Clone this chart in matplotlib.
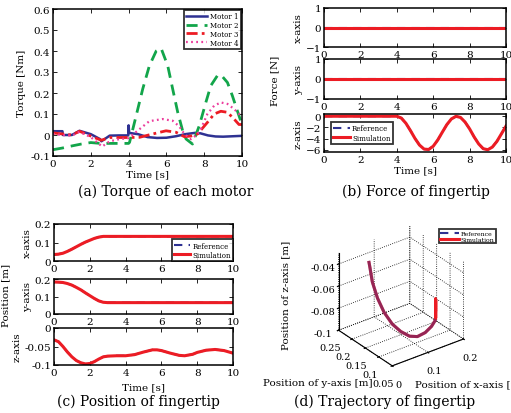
import numpy as np
import matplotlib
matplotlib.use("Agg")
import matplotlib.pyplot as plt
from matplotlib.lines import Line2D

plt.rcParams['font.family'] = ['DejaVu Serif']
plt.rcParams['mathtext.fontset'] = 'dejavuserif'
plt.rcParams['grid.linestyle'] = ':'
plt.rcParams['grid.color'] = 'black'
plt.rcParams['grid.linewidth'] = 0.6

# ---- (a) torque of each motor ----
m1_t = [0, 0.5, 0.52, 1.0, 1.4, 2.0, 2.5, 2.56, 3.0, 3.5, 3.98, 4.0, 4.03, 4.5, 5.0, 5.5, 6.0, 6.5, 7.0, 7.5, 7.8, 8.2, 8.6, 9.0, 9.5, 10]
m1_v = [0.018, 0.018, 0.0, 0.0, 0.02, 0.004, -0.02, -0.03, -0.003, -0.002, -0.002, 0.046, 0.01, 0.004, -0.01, -0.014, -0.013, -0.006, 0.004, 0.01, 0.008, -0.002, -0.007, -0.008, -0.006, -0.004]

m2_t = [0, 0.5, 1.0, 1.5, 2.0, 2.5, 3.0, 4.0, 4.05, 4.4, 4.75, 5.1, 5.46, 5.72, 6.07, 6.33, 6.6, 6.86, 7.04, 7.38, 7.74, 8.09, 8.35, 8.7, 8.88, 9.23, 9.49, 9.75, 9.93, 10]
m2_v = [-0.07, -0.062, -0.052, -0.043, -0.036, -0.04, -0.04, -0.04, -0.035, 0.092, 0.22, 0.33, 0.40, 0.413, 0.33, 0.22, 0.108, 0.02, -0.019, -0.043, 0.044, 0.156, 0.235, 0.283, 0.287, 0.25, 0.187, 0.116, 0.068, 0.06]

m3_t = [0, 0.5, 1.0, 1.4, 2.0, 2.55, 3.0, 3.5, 4.0, 4.58, 5.28, 5.98, 6.51, 6.95, 7.3, 7.65, 8.17, 8.53, 8.88, 9.23, 9.58, 9.84, 10]
m3_v = [0.01, 0.005, 0.0, 0.018, -0.005, -0.025, -0.012, -0.012, -0.012, -0.011, 0.005, 0.02, 0.013, -0.008, -0.005, 0.005, 0.06, 0.1, 0.113, 0.108, 0.076, 0.05, 0.05]

m4_t = [0, 0.5, 1.0, 1.4, 2.0, 2.6, 3.0, 3.5, 4.0, 4.2, 4.58, 5.1, 5.8, 6.33, 6.68, 6.95, 7.3, 7.6, 7.83, 8.17, 8.53, 8.88, 9.23, 9.58, 9.93, 10]
m4_v = [0.005, 0.0, -0.003, 0.015, -0.01, -0.055, -0.03, -0.02, -0.015, 0.0, 0.028, 0.066, 0.076, 0.068, 0.041, 0.005, -0.02, 0.0, 0.03, 0.1, 0.14, 0.155, 0.148, 0.124, 0.092, 0.09]

# ---- (b) force of fingertip ----
force_t = [0, 4.0, 4.25, 4.5, 4.75, 5.0, 5.25, 5.5, 5.75, 6.0, 6.25, 6.5, 6.75, 7.0, 7.25, 7.5, 7.75, 8.0, 8.25, 8.5, 8.75, 9.0, 9.25, 9.5, 9.75, 10]
force_x = [0] * len(force_t)
force_y = [0] * len(force_t)
force_z = [0, 0, -0.33, -1.26, -2.57, -3.98, -5.17, -5.88, -5.95, -5.37, -4.25, -2.86, -1.5, -0.48, -0.02, -0.21, -1.04, -2.26, -3.71, -4.96, -5.81, -5.99, -5.52, -4.5, -3.14, -1.76]

# ---- (c) position of fingertip ----
pos_t = [0, 0.25, 0.5, 0.75, 1.0, 1.25, 1.5, 1.75, 2.0, 2.25, 2.5, 2.75, 3.0, 3.5, 4.0, 4.5, 5.0, 5.5, 5.75, 6.0, 6.5, 7.0, 7.3, 7.75, 8.0, 8.5, 9.0, 9.5, 10]
pos_x = [0.035, 0.037, 0.042, 0.052, 0.064, 0.077, 0.09, 0.102, 0.112, 0.122, 0.129, 0.133, 0.133, 0.133, 0.133, 0.133, 0.133, 0.133, 0.133, 0.133, 0.133, 0.133, 0.133, 0.133, 0.133, 0.133, 0.133, 0.133, 0.133]
pos_y = [0.183, 0.182, 0.18, 0.174, 0.165, 0.152, 0.138, 0.121, 0.105, 0.089, 0.075, 0.067, 0.065, 0.065, 0.065, 0.065, 0.065, 0.065, 0.065, 0.065, 0.065, 0.065, 0.065, 0.065, 0.065, 0.065, 0.065, 0.065, 0.065]
pos_z = [-0.032, -0.037, -0.05, -0.065, -0.078, -0.088, -0.094, -0.097, -0.096, -0.091, -0.084, -0.078, -0.076, -0.075, -0.075, -0.072, -0.065, -0.059, -0.059, -0.061, -0.068, -0.074, -0.075, -0.071, -0.066, -0.06, -0.058, -0.061, -0.068]

motor_labels = ['Motor 1', 'Motor 2', 'Motor 3', 'Motor 4']
BLUE = '#2e3192'
GREEN = '#12a54a'
RED = '#ec1c24'
PINK = '#ec3c9c'

W, H = 511, 414
fig = plt.figure(figsize=(W / 100, H / 100), dpi=100)


def box(l, t, r, b, **kw):
    return fig.add_axes([l / W, 1 - b / H, (r - l) / W, (b - t) / H], **kw)


def style(ax):
    for s in ax.spines.values():
        s.set_linewidth(1.1)
    ax.tick_params(direction='in', length=3, width=0.6, labelsize=7.5,
                   top=True, right=True, pad=2)


def frame(leg):
    leg.get_frame().set_edgecolor('black')
    leg.get_frame().set_linewidth(1.3)


# (a)
ax = box(53, 10, 242, 157)
style(ax)
ax.plot(m1_t, m1_v, color=BLUE, lw=1.8, label=motor_labels[0])
ax.plot(m2_t, m2_v, color=GREEN, lw=2.0, ls=(0, (4, 2.5)), label=motor_labels[1])
ax.plot(m3_t, m3_v, color=RED, lw=2.0, ls=(0, (4, 1.5, 1, 1.5)), label=motor_labels[2])
ax.plot(m4_t, m4_v, color=PINK, lw=1.6, ls=(0, (0.8, 1.5)), label=motor_labels[3])
ax.set_xlim(0, 10)
ax.set_ylim(-0.1, 0.6)
ax.set_xticks([0, 2, 4, 6, 8, 10])
ax.set_yticks([-0.1, 0, 0.1, 0.2, 0.3, 0.4, 0.5, 0.6])
ax.set_yticklabels(['-0.1', '0', '0.1', '0.2', '0.3', '0.4', '0.5', '0.6'])
ax.set_ylabel('Torque [Nm]', fontsize=7.5, labelpad=3)
ax.set_xlabel('Time [s]', fontsize=7.5, labelpad=1)
leg = ax.legend(loc='upper right', fontsize=5, frameon=True, fancybox=False,
                handlelength=3, borderpad=0.3, labelspacing=0.1, handletextpad=0.4,
                borderaxespad=0.2)
frame(leg)
fig.text(166 / W, 1 - 192 / H, '(a) Torque of each motor', ha='center', va='center', fontsize=10)

# (b)
fb = [(9, 48), (60, 100), (115, 153)]
fvals = [force_x, force_y, force_z]
fnames = ['x-axis', 'y-axis', 'z-axis']
for i in range(3):
    ax = box(324, fb[i][0], 506, fb[i][1])
    style(ax)
    ax.plot(force_t, fvals[i], color=BLUE, lw=1.5, ls=(0, (4, 3)), label='Reference')
    ax.plot(force_t, fvals[i], color=RED, lw=2.2, label='Simulation')
    ax.set_xlim(0, 10)
    ax.set_xticks([0, 2, 4, 6, 8, 10])
    if i < 2:
        ax.set_ylim(-1, 1)
        ax.set_yticks([-1, 0, 1])
    else:
        ax.set_ylim(-6.4, 0.4)
        ax.set_yticks([-6, -4, -2, 0])
        leg = ax.legend(loc='lower left', fontsize=5, fancybox=False, handlelength=2.4,
                        borderpad=0.3, labelspacing=0.2, handletextpad=0.3,
                        bbox_to_anchor=(0.02, 0.12))
        frame(leg)
        ax.set_xlabel('Time [s]', fontsize=7.5, labelpad=1)
    ax.set_ylabel(fnames[i], fontsize=7.5, labelpad=2)
fig.text(275 / W, 1 - 81 / H, 'Force [N]', rotation=90, ha='center', va='center', fontsize=7.5)
fig.text(416 / W, 1 - 192 / H, '(b) Force of fingertip', ha='center', va='center', fontsize=10)

# (c)
pb = [(225, 262), (280, 315), (329, 366)]
pvals = [pos_x, pos_y, pos_z]
for i in range(3):
    ax = box(54, pb[i][0], 233, pb[i][1])
    style(ax)
    ax.plot(pos_t, pvals[i], color=BLUE, lw=1.5, ls=(0, (4, 3)), label='Reference')
    ax.plot(pos_t, pvals[i], color=RED, lw=2.2, label='Simulation')
    ax.set_xlim(0, 10)
    ax.set_xticks([0, 2, 4, 6, 8, 10])
    if i < 2:
        ax.set_ylim(0, 0.2)
        ax.set_yticks([0, 0.1, 0.2])
        ax.set_yticklabels(['0', '0.1', '0.2'])
    else:
        ax.set_ylim(-0.1, 0)
        ax.set_yticks([-0.1, -0.05, 0])
        ax.set_yticklabels(['-0.1', '-0.05', '0'])
        ax.set_xlabel('Time [s]', fontsize=7.5, labelpad=4)
    if i == 0:
        leg = ax.legend(loc='lower right', fontsize=5, fancybox=False, handlelength=2.4,
                        borderpad=0.3, labelspacing=0.2, handletextpad=0.3,
                        borderaxespad=0.0)
        frame(leg)
    ax.set_ylabel(fnames[i], fontsize=7.5, labelpad=2)
fig.text(6 / W, 1 - 295 / H, 'Position [m]', rotation=90, ha='center', va='center', fontsize=7.5)
fig.text(138 / W, 1 - 402 / H, '(c) Position of fingertip', ha='center', va='center', fontsize=10)

# (d)
ax3 = fig.add_axes([(399 - 75) / W, 1 - (299 + 80) / H, 150 / W, 160 / H],
                   projection='3d', proj_type='ortho')
ax3.set_box_aspect((1, 1, 1))
n_app = 12
ax3.plot(pos_x, pos_y, pos_z, color=RED, lw=2.2)
ax3.plot(pos_x[:n_app], pos_y[:n_app], pos_z[:n_app], color=BLUE, lw=2.2, alpha=0.45)
ax3.set_xlim(0, 0.2)
ax3.set_ylim(0.05, 0.25)
ax3.set_zlim(-0.1, -0.03)
ax3.set_xticks([0, 0.1, 0.2])
ax3.set_xticklabels(['0', '0.1', '0.2'])
ax3.set_yticks([0.05, 0.1, 0.15, 0.2, 0.25])
ax3.set_yticklabels(['0.05', '0.1', '0.15', '0.2', '0.25'])
ax3.set_zticks([-0.1, -0.08, -0.06, -0.04])
ax3.set_zticklabels(['-0.1', '-0.08', '-0.06', '-0.04'])
ax3.tick_params(labelsize=7, pad=-1)
for a in (ax3.xaxis, ax3.yaxis, ax3.zaxis):
    a.pane.fill = False
    a.pane.set_edgecolor('none')
    a.line.set_color('black')
ax3.view_init(elev=30, azim=-127)
leg = fig.legend(handles=[Line2D([], [], color=BLUE, lw=1.5, ls=(0, (4, 3))),
                          Line2D([], [], color=RED, lw=2.2)],
                 labels=['Reference', 'Simulation'], loc='upper right', fontsize=4.5,
                 fancybox=False, handlelength=3, borderpad=0.2, labelspacing=0.1,
                 handletextpad=0.3, bbox_to_anchor=(499 / W, 1 - 227 / H))
frame(leg)
fig.text(286 / W, 1 - 295 / H, 'Position of z-axis [m]', rotation=90, ha='center', va='center', fontsize=7.5)
fig.text(318 / W, 1 - 384 / H, 'Position of y-axis [m]', ha='center', va='center', fontsize=7.5)
fig.text(470 / W, 1 - 385 / H, 'Position of x-axis [m]', ha='center', va='center', fontsize=7.5)
fig.text(385 / W, 1 - 402 / H, '(d) Trajectory of fingertip', ha='center', va='center', fontsize=10)

fig.savefig('out.png', dpi=100)
